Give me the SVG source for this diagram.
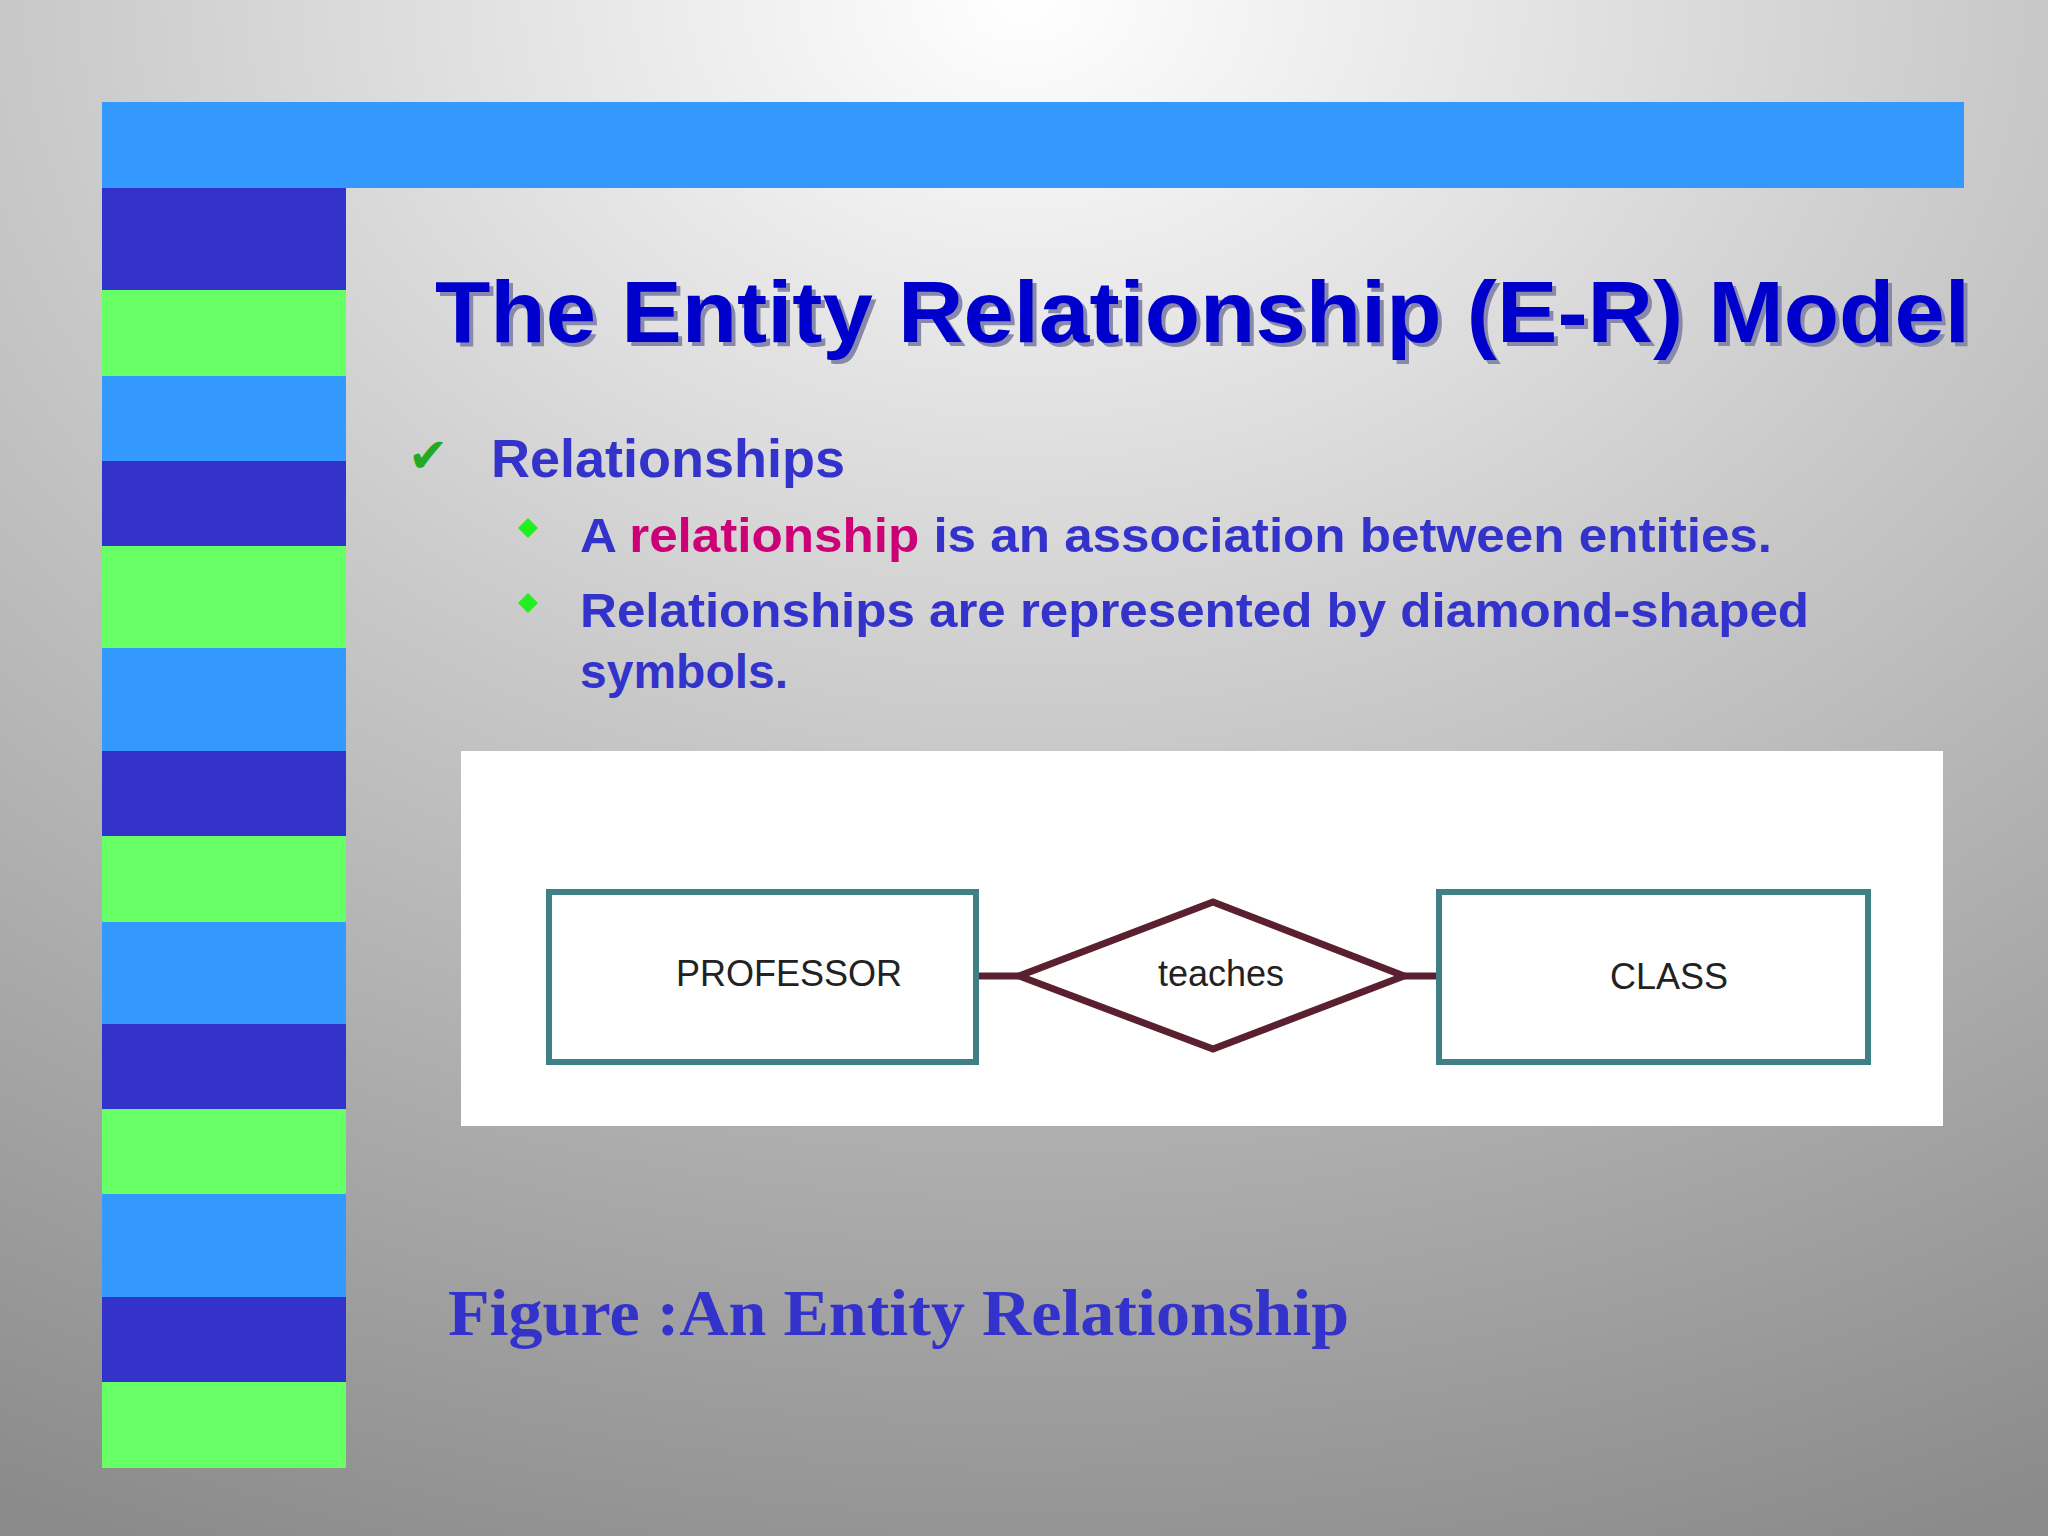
<svg xmlns="http://www.w3.org/2000/svg" width="2048" height="1536" viewBox="0 0 2048 1536">
<defs>
<radialGradient id="bg" cx="0.5" cy="0" r="1.1">
<stop offset="0" stop-color="#ffffff"/>
<stop offset="0.45" stop-color="#c8c8c8"/>
<stop offset="1" stop-color="#8a8a8a"/>
</radialGradient>
<style>
.dk{fill:#3333cc}.gr{fill:#66ff66}.lb{fill:#3399ff}
.t{font-family:"Liberation Sans",Arial,sans-serif;font-weight:bold;fill:#3333cc}
.ent{fill:#fff;stroke:#3f7f86;stroke-width:6}
.lbl{font-family:"Liberation Sans",Arial,sans-serif;font-size:36px;fill:#222;text-anchor:middle}
</style>
</defs>
<rect width="2048" height="1536" fill="url(#bg)"/>
<rect x="102" y="102" width="1862" height="86" class="lb"/>
<g>
<rect x="102" y="188" width="244" height="102" class="dk"/>
<rect x="102" y="290" width="244" height="86" class="gr"/>
<rect x="102" y="376" width="244" height="85" class="lb"/>
<rect x="102" y="461" width="244" height="85" class="dk"/>
<rect x="102" y="546" width="244" height="102" class="gr"/>
<rect x="102" y="648" width="244" height="103" class="lb"/>
<rect x="102" y="751" width="244" height="85" class="dk"/>
<rect x="102" y="836" width="244" height="86" class="gr"/>
<rect x="102" y="922" width="244" height="102" class="lb"/>
<rect x="102" y="1024" width="244" height="85" class="dk"/>
<rect x="102" y="1109" width="244" height="85" class="gr"/>
<rect x="102" y="1194" width="244" height="103" class="lb"/>
<rect x="102" y="1297" width="244" height="85" class="dk"/>
<rect x="102" y="1382" width="244" height="86" class="gr"/>
</g>
<text x="439" y="346" class="t" font-size="88" style="fill:#8888aa" textLength="1535" lengthAdjust="spacingAndGlyphs">The Entity Relationship (E-R) Model</text>
<text x="435" y="342" class="t" font-size="88" style="fill:#0000cc" textLength="1535" lengthAdjust="spacingAndGlyphs">The Entity Relationship (E-R) Model</text>
<text x="408" y="472" font-family="DejaVu Sans,sans-serif" font-size="48" fill="#22aa22">✔</text>
<text x="491" y="477" class="t" font-size="54">Relationships</text>
<path d="M528 518 L538 528 L528 538 L518 528Z M528 593 L538 603 L528 613 L518 603Z" fill="#22ee22"/>
<text x="580" y="552" class="t" font-size="48" textLength="1192" lengthAdjust="spacingAndGlyphs">A <tspan style="fill:#cc0077">relationship</tspan> is an association between entities.</text>
<text x="580" y="627" class="t" font-size="48" textLength="1229" lengthAdjust="spacingAndGlyphs">Relationships are represented by diamond-shaped</text>
<text x="580" y="688" class="t" font-size="48">symbols.</text>
<rect x="461" y="751" width="1482" height="375" fill="#fff"/>
<g id="connectors" stroke="#5a2030" stroke-width="7">
<line x1="976" y1="976" x2="1019" y2="976"/>
<line x1="1404" y1="976" x2="1439" y2="976"/>
</g>
<g id="professor"><rect x="549" y="892" width="427" height="170" class="ent"/><text x="789" y="986" class="lbl">PROFESSOR</text></g>
<g id="teaches"><path d="M1019 976 L1213 902 L1404 976 L1213 1049Z" fill="#fff" stroke="#5a2030" stroke-width="7"/><text x="1221" y="986" class="lbl">teaches</text></g>
<g id="class"><rect x="1439" y="892" width="429" height="170" class="ent"/><text x="1669" y="989" class="lbl">CLASS</text></g>
<text x="448" y="1335" font-family="Liberation Serif,serif" font-weight="bold" font-size="66" fill="#3333cc" textLength="901" lengthAdjust="spacingAndGlyphs">Figure :An Entity Relationship</text>
</svg>
